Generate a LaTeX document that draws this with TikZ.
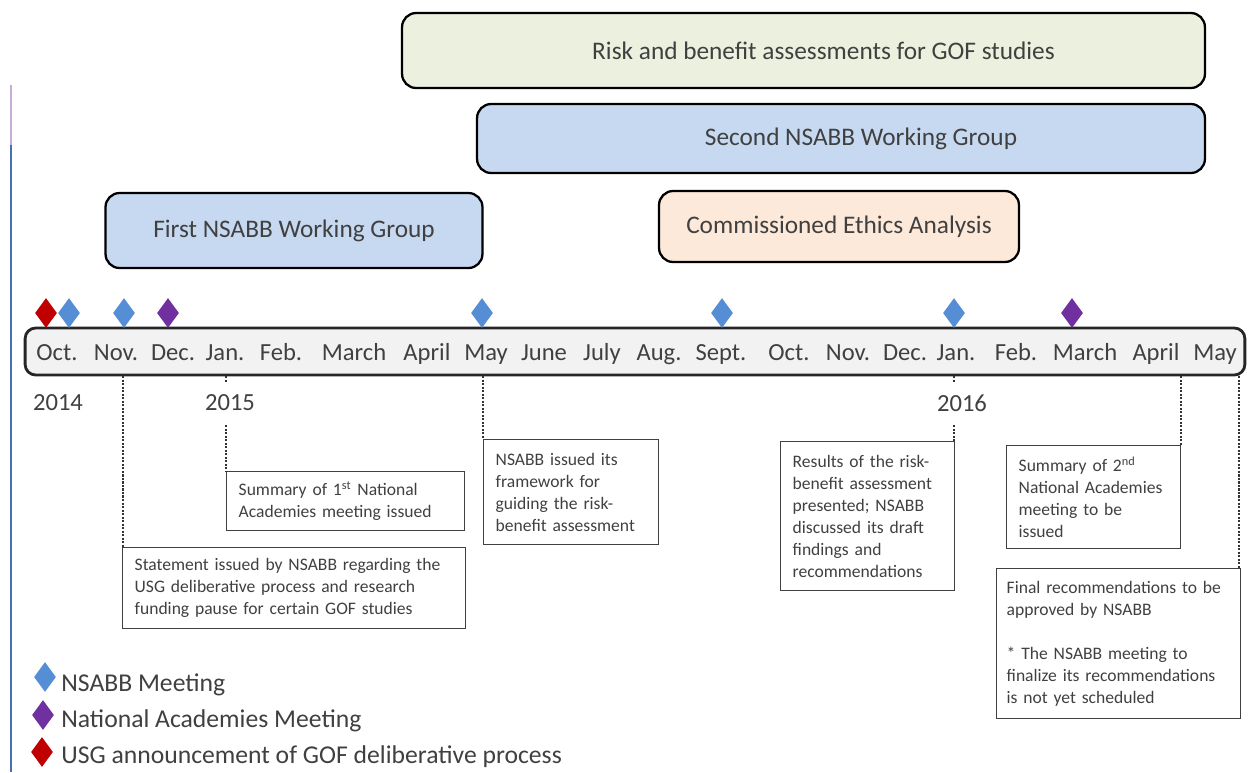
\documentclass[tikz,border=0pt]{standalone}
\usepackage{fontspec}
\setmainfont{Carlito}
\usetikzlibrary{shapes.geometric}

\definecolor{nsabb}{RGB}{85,142,213}
\definecolor{nas}{RGB}{112,48,160}
\definecolor{usg}{RGB}{192,0,0}
\definecolor{riskfill}{RGB}{235,241,222}
\definecolor{wgfill}{RGB}{198,217,241}
\definecolor{ethfill}{RGB}{253,233,217}
\definecolor{barfill}{RGB}{242,242,242}
\definecolor{txt}{RGB}{64,64,64}
\definecolor{edge}{RGB}{70,112,180}

\begin{document}
\begin{tikzpicture}[x=0.02cm, y=-0.02cm,
  phase/.style={draw=black, line width=1.3pt, rounded corners=8pt, text=txt, font=\fontsize{14.4}{16}\selectfont},
  event/.style={draw=black!75, line width=0.8pt, text=txt, align=left, anchor=north west, inner xsep=0.24cm, font=\fontsize{10}{12.5}\selectfont},
  meet/.style={diamond, fill=#1, inner sep=0pt, minimum width=0.44cm, minimum height=0.6cm},
  guide/.style={draw=black!80, dash pattern=on 1.2pt off 0.8pt, line width=0.6pt},
  month/.style={text=txt, anchor=base, font=\fontsize{14}{16}\selectfont},
  key/.style={text=txt, anchor=base west, inner sep=0pt, font=\fontsize{14.6}{16}\selectfont}
]
\useasboundingbox (0,0) rectangle (1248,772);

% left edge
\draw[line width=1.1pt, nas!40] (11,85) -- (11,145);
\draw[line width=1.1pt, edge] (11,145) -- (11,772);

% Phases
\node[phase, fill=riskfill, minimum width=16.06cm, minimum height=1.5cm] (risk) at (803.5,50.5) {\hspace*{0.8cm}Risk and benefit assessments for GOF studies};
\node[phase, fill=wgfill, minimum width=14.56cm, minimum height=1.38cm] (wg2) at (841,138.5) {\hspace*{0.8cm}Second NSABB Working Group};
\node[phase, fill=ethfill, minimum width=7.2cm, minimum height=1.42cm] (ethics) at (839,226.5) {Commissioned Ethics Analysis};
\node[phase, fill=wgfill, minimum width=7.54cm, minimum height=1.5cm] (wg1) at (294,230.5) {First NSABB Working Group};

% Timeline
\node[draw=black!85, fill=barfill, line width=1.6pt, rounded corners=6pt, minimum width=24.4cm, minimum height=0.94cm] (bar) at (635,351.5) {};
\foreach \m/\x [count=\i] in {Oct./57, Nov./116, Dec./173, Jan./225, Feb./281, March/354, April/427, May/486, June/544, July/602, Aug./659, Sept./721, Oct./789, Nov./848, Dec./905, Jan./956, Feb./1016, March/1085, April/1156, May/1215}
  \node[month] (mon\i) at (\x,360) {\m};

% Meetings
\foreach \x/\c [count=\i] in {46/usg, 69/nsabb, 124/nsabb, 168/nas, 482/nsabb, 722/nsabb, 954/nsabb, 1072/nas}
  \node[meet=\c] (d\i) at (\x,313) {};

% Events
\node[event, text width=6.38cm, minimum height=1.62cm] (stmt) at (122,547) {Statement issued by NSABB regarding the\\ USG deliberative process and research\\ funding pause for certain GOF studies};
\node[event, text width=4.28cm, minimum height=1.18cm] (summ1) at (226,471) {Summary of 1\textsuperscript{st} National\\ Academies meeting issued};
\node[event, text width=3.02cm, minimum height=2.1cm] (frame) at (483,439) {NSABB issued its\\ framework for\\ guiding the risk-\\ benefit assessment};
\node[event, text width=3.0cm, minimum height=2.98cm] (results) at (780,441) {Results of the risk-\\ benefit assessment\\ presented; NSABB\\ discussed its draft\\ findings and\\ recommendations};
\node[event, text width=3.0cm, minimum height=2.06cm] (summ2) at (1006,445) {Summary of 2\textsuperscript{nd}\\ National Academies\\ meeting to be\\ issued};
\node[event, inner xsep=0.2cm, text width=4.48cm, minimum height=3.0cm] (final) at (996,568) {Final recommendations to be\\ approved by NSABB\\[12.5pt] * The NSABB meeting to\\ finalize its recommendations\\ is not yet scheduled};

% Guides
\coordinate (g1) at (123,376);
\coordinate (g2) at (226,376);
\coordinate (g3) at (483,376);
\coordinate (g4) at (954,376);
\coordinate (g5) at (1181,376);
\coordinate (g6) at (1239,376);
\draw[guide] (g1) -- (g1 |- stmt.north);
\draw[guide] (g2) -- (g2 |- summ1.north);
\draw[guide] (g3) -- (g3 |- frame.north);
\draw[guide] (g4) -- (g4 |- results.north);
\draw[guide] (g5) -- (g5 |- summ2.north);
\draw[guide] (g6) -- (g6 |- final.north);

% Years
\node[text=txt, font=\fontsize{14}{16}\selectfont] (y14) at (58,403) {2014};
\node[text=txt, fill=white, minimum height=0.84cm, font=\fontsize{14}{16}\selectfont] (y15) at (230,403) {2015};
\node[text=txt, fill=white, minimum height=0.84cm, font=\fontsize{14}{16}\selectfont] (y16) at (962,403) {2016};

% Legend
\node[meet=nsabb] (k1) at (45,677) {};
\node[meet=nas] (k2) at (43,715) {};
\node[meet=usg] (k3) at (42,752) {};
\node[key] (t1) at (61,691) {NSABB Meeting};
\node[key] (t2) at (61,727) {National Academies Meeting};
\node[key] (t3) at (61,763) {USG announcement of GOF deliberative process};

\end{tikzpicture}
\end{document}
